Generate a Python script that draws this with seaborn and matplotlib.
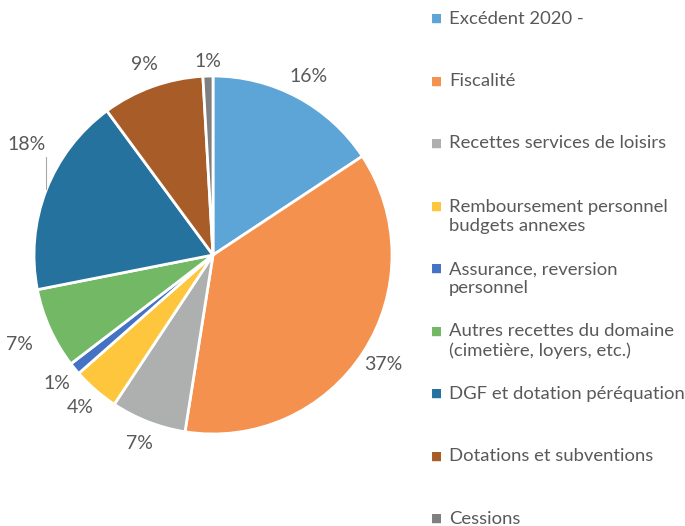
import seaborn as sns
import matplotlib.pyplot as plt

sns.set_theme(style="white")
plt.rcParams['font.family'] = ['Lato', 'DejaVu Sans']

# Recettes par catégorie (%)
categories = [
    "Excédent 2020 -",
    "Fiscalité",
    "Recettes services de loisirs",
    "Remboursement personnel\nbudgets annexes",
    "Assurance, reversion\npersonnel",
    "Autres recettes du domaine\n(cimetière, loyers, etc.)",
    "DGF et dotation péréquation",
    "Dotations et subventions",
    "Cessions",
]
values = [15.7, 36.8, 6.8, 4.2, 1.1, 7.3, 18.0, 9.2, 0.9]
colors = ["#5DA5D6", "#F5914E", "#AEB0B0", "#FDC63C", "#4472C4",
          "#72B865", "#26729F", "#A85C27", "#7F7F7F"]
text_grey = "#595959"

W, H = 685, 526
fig = plt.figure(figsize=(W / 100, H / 100), dpi=100)

# pie centre (213, 255) px, radius 179 px
cx, cy, r = 213, 255, 179
half = 210
ax = fig.add_axes([(cx - half) / W, (H - cy - half) / H, 2 * half / W, 2 * half / H])
wedges, texts, autotexts = ax.pie(
    values, colors=colors, startangle=90, counterclock=False,
    autopct="%.0f%%", pctdistance=1.13,
    wedgeprops=dict(edgecolor="white", linewidth=2),
    textprops=dict(color=text_grey, fontsize=14),
)
ax.set_xlim(-half / r, half / r)
ax.set_ylim(-half / r, half / r)
ax.set_aspect("equal")
ax.axis("off")

# DGF label is pushed up with a leader line
autotexts[6].set_position((-1.04, 0.62))
ax.plot([-0.935, -0.935], [0.55, 0.37], color="#A6A6A6", lw=0.8)
autotexts[5].set_position((-1.08, -0.50))
autotexts[8].set_position((-0.03, 1.08))

# legend on the right, one slot per entry
top, step, line_gap = 17, 62.5, 20
for i, (lab, col) in enumerate(zip(categories, colors)):
    y = 1 - (top + i * step) / H
    n_extra = lab.count("\n")
    fig.text(437 / W, y, "■", color=col, fontsize=8.5, va="center_baseline", ha="center",
             family=["DejaVu Sans"])
    fig.text(449 / W, y - (6.5 + n_extra * line_gap) / H, lab, color=text_grey,
             fontsize=13.3, va="baseline", ha="left", linespacing=1.25)

fig.savefig("out.png", dpi=100)
